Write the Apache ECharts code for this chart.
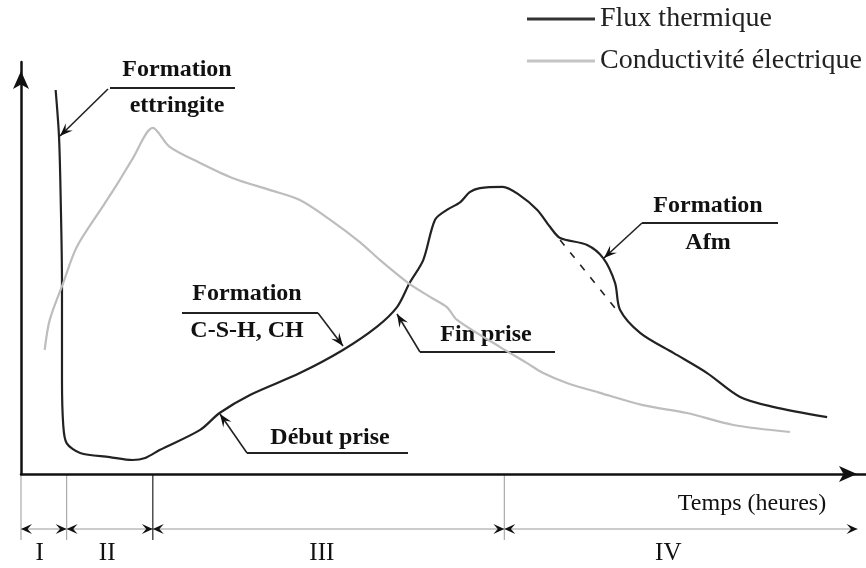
<!DOCTYPE html>
<html>
<head>
<meta charset="utf-8">
<script src="https://cdn.jsdelivr.net/npm/echarts@6/dist/echarts.min.js"></script>
<style>
html,body{margin:0;padding:0;background:#fff;}
#chart{width:866px;height:568px;}
</style>
</head>
<body>
<div id="chart"></div>
<script>
// schematic units: time 0..100, signal 0..100
var fluxTime  = [4.1, 4.5, 4.7, 4.85, 4.85, 5.0, 5.4, 7.0, 10.5, 13.2, 14.7, 16.4, 21.2, 23.5, 27.1, 33.0, 38.1, 42.1, 44.5, 46.0, 47.6, 49.0, 50.4, 52.0, 53.1, 54.3, 57.0, 59.0, 61.1, 62.6, 63.8, 67.0, 68.9, 70.3, 70.9, 73.3, 77.2, 81.2, 85.1, 89.0, 95.4];
var fluxValue = [93.2, 81.8, 66.5, 46.4, 22.8, 11.9, 7.5, 5.1, 4.1, 3.4, 3.9, 5.8, 10.7, 14.8, 19.2, 24.5, 30.1, 35.7, 40.5, 46.4, 51.9, 61.7, 64.1, 66.0, 68.4, 69.4, 69.7, 67.7, 64.1, 60.0, 57.3, 55.6, 52.4, 46.4, 39.8, 34.2, 29.4, 24.5, 18.7, 16.3, 13.8];

var condTime  = [2.8, 3.4, 5.0, 6.6, 9.7, 11.4, 13.2, 15.6, 17.6, 21.2, 25.1, 29.5, 33.0, 36.6, 40.1, 42.5, 45.8, 48.4, 50.4, 51.6, 56.7, 59.9, 61.8, 64.6, 68.5, 73.6, 78.8, 84.3, 91.0];
var condValue = [30.1, 37.4, 46.4, 55.1, 65.0, 70.4, 76.5, 84.0, 79.4, 75.5, 71.8, 68.9, 66.5, 61.7, 56.3, 51.9, 46.4, 43.0, 40.5, 37.4, 30.8, 26.9, 24.5, 22.1, 19.7, 16.7, 14.8, 11.9, 10.2];

// flux without the AFm shoulder (dashed)
var afmBaseTime  = [63.8, 70.5];
var afmBaseValue = [56.8, 39.8];

var seriesNames  = ['Flux thermique', 'Conductivité électrique'];
var periodBounds = [0, 5.4, 15.6, 57.2, 99];
var periodNames  = ['I', 'II', 'III', 'IV'];
var periodLabelX = [2.2, 10.2, 35.6, 76.6];

var FONT = 'Liberation Serif';

function pairs(xs, ys) {
  return xs.map(function (x, i) { return [x, ys[i]]; });
}

// annotations (pixel layout)
var notes = [
  {top: 'Formation', bottom: 'ettringite', cx: 177, yTop: 70, yBot: 106, line: [110, 235, 88], from: [108, 89], tip: [60, 136]},
  {top: 'Formation', bottom: 'C-S-H, CH', cx: 247, yTop: 294, yBot: 331, line: [182, 318, 313], from: [318, 313], tip: [343, 346]},
  {top: 'Fin prise', cx: 486, yTop: 335, line: [420, 555, 352], from: [420, 352], tip: [397, 314]},
  {top: 'Début prise', cx: 330, yTop: 438, line: [247, 408, 453], from: [247, 453], tip: [220, 414]},
  {top: 'Formation', bottom: 'Afm', cx: 708, yTop: 206, yBot: 243, line: [642, 778, 223], from: [642, 223], tip: [604, 258]}
];

function arrowHead(tip, from, len, half) {
  var dx = tip[0] - from[0], dy = tip[1] - from[1];
  var d = Math.sqrt(dx * dx + dy * dy);
  var ux = dx / d, uy = dy / d;
  var bx = tip[0] - ux * len, by = tip[1] - uy * len;
  return {
    type: 'polygon',
    shape: {points: [tip, [bx - uy * half, by + ux * half], [tip[0] - ux * len * 0.6, tip[1] - uy * len * 0.6], [bx + uy * half, by - ux * half]]},
    style: {fill: '#111'}
  };
}

function txt(s, x, y, size, weight) {
  return {type: 'text', x: x, y: y, style: {text: s, fill: '#111', font: weight + ' ' + size + 'px "' + FONT + '"', align: 'center', verticalAlign: 'middle'}};
}

var chart = echarts.init(document.getElementById('chart'));

chart.setOption({
  animation: false,
  grid: {left: 21, right: 0, top: 62, bottom: 94},
  legend: {
    left: 522, top: 0, orient: 'vertical',
    icon: 'rect', itemWidth: 68, itemHeight: 3, itemGap: 14,
    textStyle: {fontFamily: FONT, fontSize: 28, color: '#222'},
    data: seriesNames
  },
  xAxis: {
    type: 'value', min: 0, max: 100,
    axisLine: {lineStyle: {color: '#111', width: 2.5}, symbol: ['none', 'arrow'], symbolSize: [12, 18], symbolOffset: [0, -9]},
    axisTick: {show: false}, axisLabel: {show: false}, splitLine: {show: false}
  },
  yAxis: {
    type: 'value', min: 0, max: 100,
    axisLine: {show: true, lineStyle: {color: '#111', width: 2.5}, symbol: ['none', 'arrow'], symbolSize: [12, 18], symbolOffset: [0, -9]},
    axisTick: {show: false}, axisLabel: {show: false}, splitLine: {show: false}
  },
  series: [
    {name: seriesNames[0], type: 'line', smooth: 0.3, symbol: 'none', data: pairs(fluxTime, fluxValue),
     lineStyle: {color: '#222', width: 2.2}, itemStyle: {color: '#333'}},
    {name: seriesNames[1], type: 'line', smooth: 0.3, symbol: 'none', data: pairs(condTime, condValue),
     lineStyle: {color: '#bdbdbd', width: 2.2}, itemStyle: {color: '#c4c4c4'}},
    {name: 'base', type: 'line', symbol: 'none', data: pairs(afmBaseTime, afmBaseValue),
     lineStyle: {color: '#222', width: 1.6, type: [7, 9]}}
  ]
});

// period bar and annotations
var g = [];
var axisY = chart.convertToPixel({yAxisIndex: 0}, 0);
var barY = axisY + 55, tickEnd = axisY + 66, labelY = axisY + 79;
var bx = periodBounds.map(function (v) { return chart.convertToPixel({xAxisIndex: 0}, v); });

g.push({type: 'line', shape: {x1: bx[0], y1: barY, x2: bx[bx.length - 1], y2: barY}, style: {stroke: '#bbb', lineWidth: 1.5}});
bx.forEach(function (x, i) {
  if (i < bx.length - 1) {
    g.push({type: 'line', shape: {x1: x, y1: axisY + 1, x2: x, y2: tickEnd}, style: {stroke: i === 2 ? '#222' : '#aaa', lineWidth: 1.2}});
  }
  if (i > 0) g.push(arrowHead([x, barY], [x - 20, barY], 11, 5));
  if (i < bx.length - 1) g.push(arrowHead([x, barY], [x + 20, barY], 11, 5));
});
periodNames.forEach(function (n, i) {
  g.push(txt(n, chart.convertToPixel({xAxisIndex: 0}, periodLabelX[i]), labelY, 25, 'normal'));
});
g.push(txt('Temps (heures)', 752, axisY + 30, 24, 'normal'));

notes.forEach(function (n) {
  g.push(txt(n.top, n.cx, n.yTop, 24, 'bold'));
  if (n.bottom) g.push(txt(n.bottom, n.cx, n.yBot, 24, 'bold'));
  g.push({type: 'line', shape: {x1: n.line[0], y1: n.line[2], x2: n.line[1], y2: n.line[2]}, style: {stroke: '#222', lineWidth: 2}});
  g.push({type: 'line', shape: {x1: n.from[0], y1: n.from[1], x2: n.tip[0], y2: n.tip[1]}, style: {stroke: '#222', lineWidth: 1.6}});
  g.push(arrowHead(n.tip, n.from, 13, 5));
});

chart.setOption({graphic: g});
</script>
</body>
</html>
